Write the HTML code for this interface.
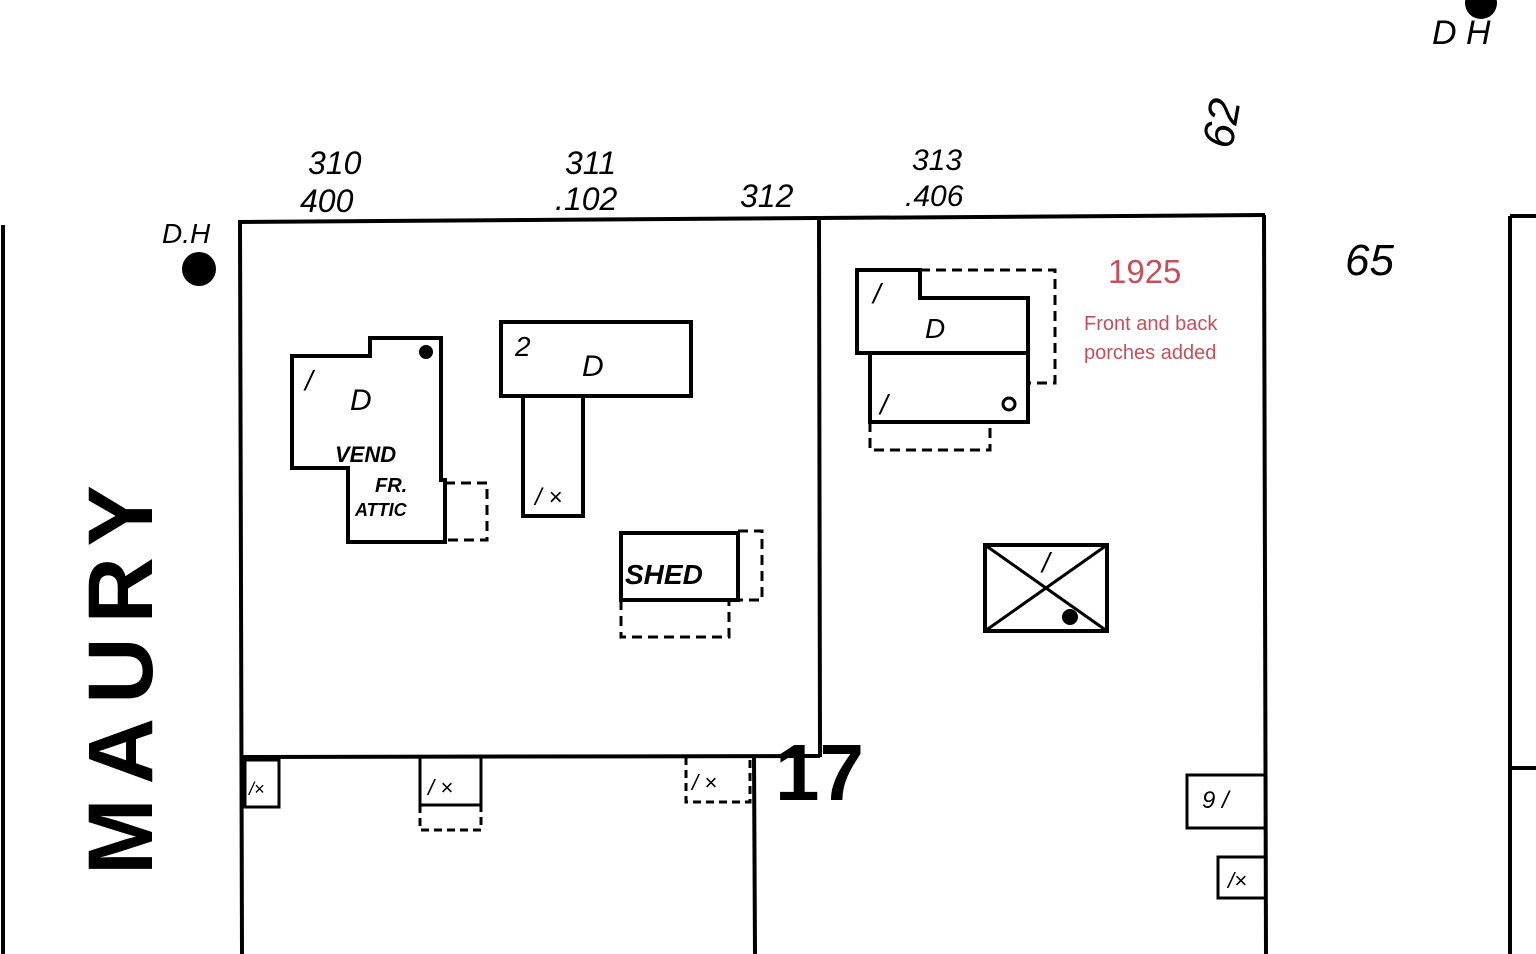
<!DOCTYPE html>
<html><head><meta charset="utf-8"><style>
html,body{margin:0;padding:0;background:#fff;}
svg{display:block}
.h{font-family:"Liberation Sans",sans-serif;font-style:italic;fill:#000}
</style></head><body>
<svg width="1536" height="954" viewBox="0 0 1536 954" xmlns="http://www.w3.org/2000/svg">
<g stroke="#000" stroke-width="4" fill="none">
 <line x1="3" y1="225" x2="3" y2="954"/>
 <line x1="238" y1="222" x2="1265" y2="215"/>
 <line x1="240" y1="222" x2="242" y2="954"/>
 <line x1="819" y1="218" x2="820" y2="757"/>
 <line x1="240" y1="757" x2="820" y2="756"/>
 <line x1="754" y1="757" x2="755" y2="954"/>
 <line x1="1264" y1="215" x2="1266" y2="954"/>
 <line x1="1510" y1="216" x2="1510" y2="954"/>
 <line x1="1510" y1="216" x2="1536" y2="216"/>
 <line x1="1510" y1="768" x2="1536" y2="768"/>
 <polygon points="292,356 370,356 370,338 441,338 441,480 445,480 445,542 348,542 348,468 292,468"/>
 <polyline points="445,483 487,483 487,540 445,540" stroke-dasharray="10,6" stroke-width="3"/>
 <rect x="501" y="322" width="190" height="74"/>
 <polyline points="523,396 523,516 583,516 583,396"/>
 <polygon points="857,270 920,270 920,298 1028,298 1028,422 870,422 870,353 857,353"/>
 <line x1="857" y1="353" x2="1028" y2="353"/>
 <polyline points="920,270 1055,270 1055,383 1028,383" stroke-dasharray="10,6" stroke-width="3"/>
 <polyline points="870,422 870,450 990,450 990,422" stroke-dasharray="10,6" stroke-width="3"/>
 <rect x="621" y="533" width="117" height="67"/>
 <polyline points="738,531 762,531 762,600 738,600" stroke-dasharray="10,6" stroke-width="3"/>
 <polyline points="621,600 621,637 729,637 729,600" stroke-dasharray="10,6" stroke-width="3"/>
 <rect x="985" y="545" width="122" height="86"/>
 <line x1="985" y1="545" x2="1107" y2="631" stroke-width="3"/>
 <line x1="1107" y1="545" x2="985" y2="631" stroke-width="3"/>
 <rect x="245" y="760" width="34" height="47" stroke-width="3"/>
 <polyline points="420,757 420,805 481,805 481,757" stroke-width="3"/>
 <polyline points="420,805 420,830 481,830 481,805" stroke-dasharray="8,5" stroke-width="3"/>
 <polyline points="686,757 686,802 750,802 750,757" stroke-dasharray="8,5" stroke-width="3"/>
 <polyline points="1264,775 1187,775 1187,828 1264,828" stroke-width="3"/>
 <polyline points="1264,857 1218,857 1218,898 1264,898" stroke-width="3"/>
</g>
<g fill="#000">
 <circle cx="199" cy="269" r="17"/>
 <circle cx="1481" cy="3" r="16"/>
 <circle cx="426" cy="352" r="7"/>
 <circle cx="1070" cy="617" r="8"/>
 <circle cx="1009" cy="404" r="6" fill="none" stroke="#000" stroke-width="3"/>
</g>
<g class="h">
 <text x="162" y="243" font-size="28">D.H</text>
 <text x="1432" y="44" font-size="34">D H</text>
 <text x="308" y="174" font-size="32">310</text>
 <text x="300" y="212" font-size="32">400</text>
 <text x="565" y="174" font-size="32">311</text>
 <text x="555" y="210" font-size="32">.102</text>
 <text x="740" y="207" font-size="32">312</text>
 <text x="912" y="170" font-size="30">313</text>
 <text x="905" y="206" font-size="30">.406</text>
 <text x="1345" y="275" font-size="44">65</text>
 <text x="0" y="0" font-size="44" transform="translate(1232,150) rotate(-80)">62</text>
 <text x="305" y="390" font-size="28">/</text>
 <text x="350" y="410" font-size="30">D</text>
 <text x="335" y="462" font-size="22" font-weight="bold">VEND</text>
 <text x="375" y="492" font-size="20" font-weight="bold">FR.</text>
 <text x="355" y="516" font-size="18" font-weight="bold">ATTIC</text>
 <text x="515" y="356" font-size="28">2</text>
 <text x="582" y="376" font-size="30">D</text>
 <text x="535" y="505" font-size="24">/ ×</text>
 <text x="873" y="303" font-size="28">/</text>
 <text x="925" y="338" font-size="28">D</text>
 <text x="880" y="414" font-size="28">/</text>
 <text x="625" y="584" font-size="28" font-weight="bold">SHED</text>
 <text x="1042" y="572" font-size="28">/</text>
 <text x="1202" y="808" font-size="24">9 /</text>
 <text x="1228" y="888" font-size="22">/×</text>
 <text x="428" y="795" font-size="22">/ ×</text>
 <text x="692" y="790" font-size="22">/ ×</text>
 <text x="249" y="795" font-size="18">/×</text>
</g>
<text x="775" y="800" font-family="Liberation Sans,sans-serif" font-weight="bold" font-size="80" fill="#000">17</text>
<text transform="translate(152,875) rotate(-90)" font-family="Liberation Sans,sans-serif" font-weight="bold" font-size="92" letter-spacing="14" fill="#000">MAURY</text>
<text x="1108" y="283" font-family="Liberation Sans,sans-serif" font-size="33" fill="#c4505c">1925</text>
<text x="1084" y="330" font-family="Liberation Sans,sans-serif" font-size="20" fill="#c4505c">Front and back</text>
<text x="1084" y="359" font-family="Liberation Sans,sans-serif" font-size="20" fill="#c4505c">porches added</text>
</svg>
</body></html>
